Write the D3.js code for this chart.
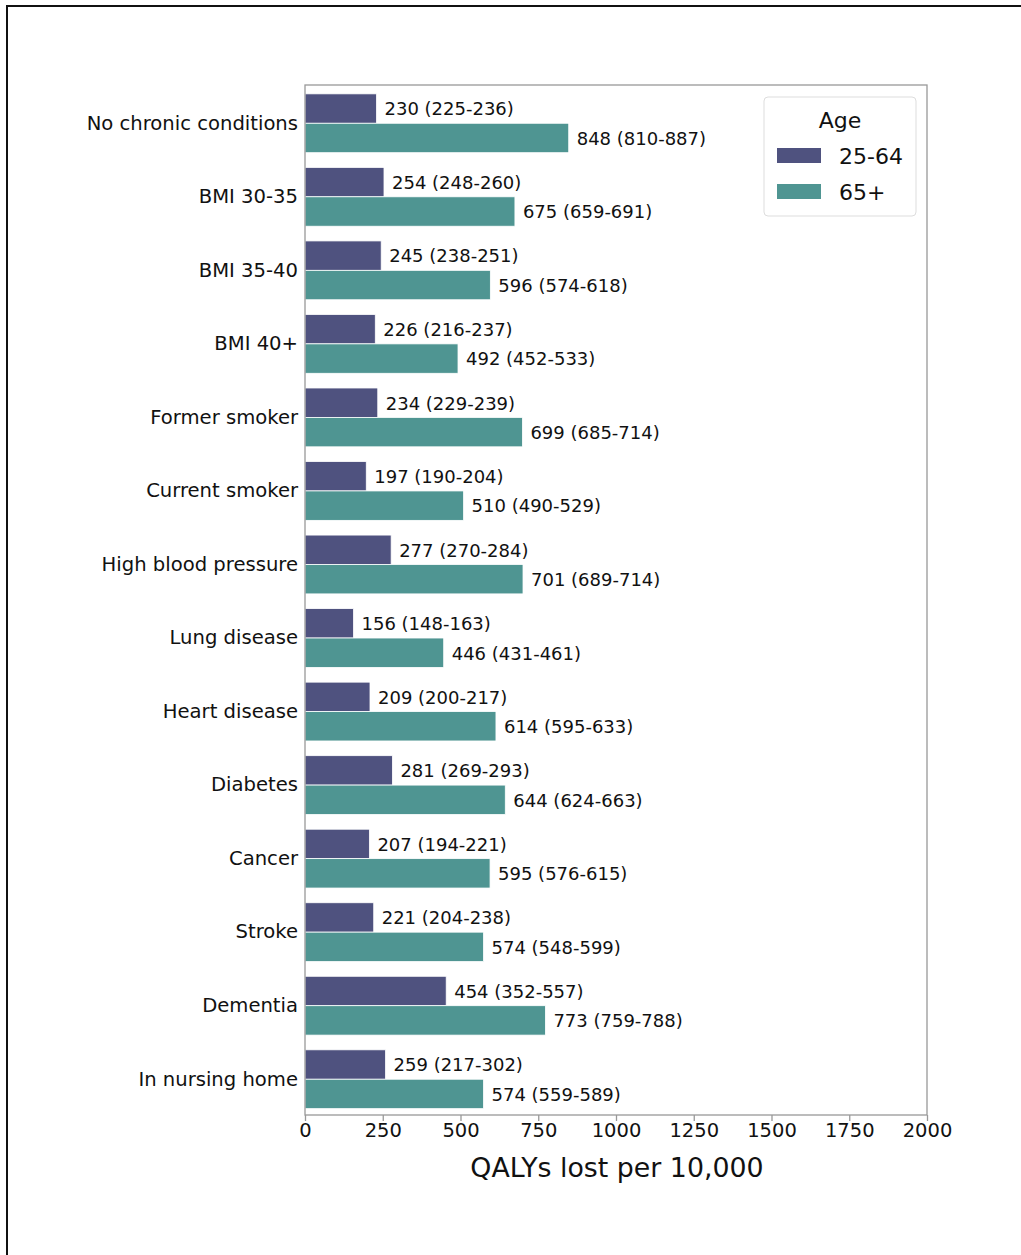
<!DOCTYPE html>
<html>
<head>
<meta charset="utf-8">
<script src="https://cdn.jsdelivr.net/npm/d3@7"></script>
<style>
  html, body { margin: 0; padding: 0; background: #fff; }
  svg { display: block; font-family: "DejaVu Sans", sans-serif; }
</style>
</head>
<body>
<svg id="chart" width="1021" height="1255"></svg>
<script>
const categories = ["No chronic conditions", "BMI 30-35", "BMI 35-40", "BMI 40+", "Former smoker", "Current smoker", "High blood pressure", "Lung disease", "Heart disease", "Diabetes", "Cancer", "Stroke", "Dementia", "In nursing home"];
const groups = ["25-64", "65+"];
const young = [230, 254, 245, 226, 234, 197, 277, 156, 209, 281, 207, 221, 454, 259];
const youngLow = [225, 248, 238, 216, 229, 190, 270, 148, 200, 269, 194, 204, 352, 217];
const youngHigh = [236, 260, 251, 237, 239, 204, 284, 163, 217, 293, 221, 238, 557, 302];
const old = [848, 675, 596, 492, 699, 510, 701, 446, 614, 644, 595, 574, 773, 574];
const oldLow = [810, 659, 574, 452, 685, 490, 689, 431, 595, 624, 576, 548, 759, 559];
const oldHigh = [887, 691, 618, 533, 714, 529, 714, 461, 633, 663, 615, 599, 788, 589];
const xTicks = [0, 250, 500, 750, 1000, 1250, 1500, 1750, 2000];
const colors = ["#4f527f", "#4f9592"];

(function () {
const svg = d3.select("#chart");

// outer frame
svg.append("rect").attr("x", 7).attr("y", 6).attr("width", 1030).attr("height", 1270)
  .attr("fill", "none").attr("stroke", "#111").attr("stroke-width", 2);

const pL = 305, pR = 927, pT = 85, pB = 1115;
const x = d3.scaleLinear().domain([0, 2000]).range([pL, pR]);
const y = d3.scaleBand().domain(categories).range([pT + 1.5, pB + 1]).paddingInner(0.2).paddingOuter(0.1);
const yi = d3.scaleBand().domain(groups).range([0, y.bandwidth()]);

const series = [
  { key: "25-64", vals: young, lo: youngLow, hi: youngHigh },
  { key: "65+", vals: old, lo: oldLow, hi: oldHigh }
];

const g = svg.append("g");
series.forEach((s, si) => {
  g.selectAll(null).data(categories).enter().append("rect")
    .attr("x", x(0))
    .attr("y", (c) => y(c) + yi(s.key))
    .attr("width", (c, i) => x(s.vals[i]) - x(0))
    .attr("height", yi.bandwidth())
    .attr("fill", colors[si])
    .attr("stroke", "#fff").attr("stroke-width", 0.8);
  g.selectAll(null).data(categories).enter().append("text")
    .attr("x", (c, i) => x(s.vals[i]) + 8)
    .attr("y", (c) => y(c) + yi(s.key) + yi.bandwidth() / 2 + 0.5)
    .attr("dy", "0.35em")
    .attr("font-size", 18)
    .attr("fill", "#111")
    .text((c, i) => `${s.vals[i]} (${s.lo[i]}-${s.hi[i]})`);
});

// spines
svg.append("rect").attr("x", pL).attr("y", pT).attr("width", pR - pL).attr("height", pB - pT)
  .attr("fill", "none").attr("stroke", "#999").attr("stroke-width", 1.3);

// x axis
const xAxis = svg.append("g").attr("transform", `translate(0,${pB})`)
  .call(d3.axisBottom(x).tickValues(xTicks).tickSize(6).tickPadding(2).tickFormat(d3.format("d")));
xAxis.select(".domain").remove();
xAxis.selectAll(".tick line").attr("stroke", "#999").attr("stroke-width", 1.3);
xAxis.selectAll(".tick text").attr("font-size", 19.5).attr("fill", "#111").attr("font-family", "DejaVu Sans");

// y axis labels
const yAxis = svg.append("g").attr("transform", `translate(${pL},0)`)
  .call(d3.axisLeft(y).tickSize(0).tickPadding(7));
yAxis.select(".domain").remove();
yAxis.selectAll(".tick text").attr("font-size", 19.6).attr("fill", "#111").attr("font-family", "DejaVu Sans");

// x axis title
svg.append("text").attr("x", (pL + pR) / 2 + 1).attr("y", 1177).attr("text-anchor", "middle")
  .attr("font-size", 26.8).attr("fill", "#111").text("QALYs lost per 10,000");

// legend
const lg = svg.append("g");
lg.append("rect").attr("x", 764).attr("y", 97).attr("width", 152).attr("height", 119).attr("rx", 4)
  .attr("fill", "#fff").attr("stroke", "#ddd").attr("stroke-width", 1);
lg.append("text").attr("x", 840).attr("y", 128).attr("text-anchor", "middle").attr("font-size", 22)
  .attr("fill", "#111").text("Age");
groups.forEach((k, i) => {
  lg.append("rect").attr("x", 777).attr("y", 148 + i * 36).attr("width", 44).attr("height", 15).attr("fill", colors[i]);
  lg.append("text").attr("x", 839).attr("y", 156 + i * 36).attr("dy", "0.35em").attr("font-size", 22)
    .attr("fill", "#111").text(k);
});
})();
</script>
</body>
</html>
